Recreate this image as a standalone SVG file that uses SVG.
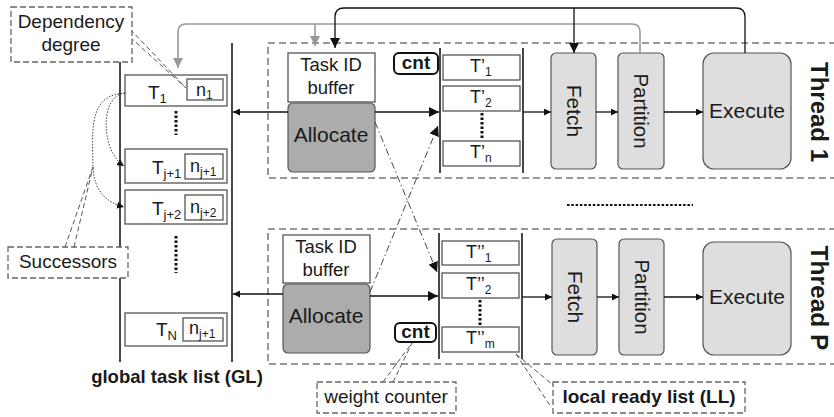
<svg xmlns="http://www.w3.org/2000/svg" width="834" height="417" viewBox="0 0 834 417">
  <style>
    text { font-family: "Liberation Sans", Arial, sans-serif; fill: #1a1a1a; }
    .b { font-weight: bold; }
    .call { fill: #fff; stroke: #666; stroke-width: 1.3; stroke-dasharray: 6 3; }
    .callLine { fill: none; stroke: #555; stroke-width: 1; stroke-dasharray: 5 3; }
    .thread { fill: none; stroke: #777; stroke-width: 1.5; stroke-dasharray: 7 4; }
    .entry { fill: #fff; stroke: #555; stroke-width: 1.3; }
    .rail { stroke: #333; stroke-width: 1.8; }
    .alloc { fill: #acacac; stroke: #555; stroke-width: 1.2; }
    .stage { fill: #dedede; stroke: #555; stroke-width: 1.2; }
    .cnt { fill: #fff; stroke: #111; stroke-width: 2; }
    .flow { fill: none; stroke: #111; stroke-width: 1.3; }
    .gray { fill: none; stroke: #999; stroke-width: 1.6; }
    .dashdot { fill: none; stroke: #444; stroke-width: 1; stroke-dasharray: 7 3 1.5 3; }
    .dots { stroke: #111; stroke-width: 3; stroke-dasharray: 2.5 2; }
    .succ { fill: none; stroke: #444; stroke-width: 1; stroke-dasharray: 1.5 1.5; }
  </style>
  <defs>
    <marker id="ah" viewBox="0 0 10 10" refX="10" refY="5" markerWidth="7" markerHeight="7" markerUnits="userSpaceOnUse" orient="auto">
      <path d="M0,0 L10,5 L0,10 z" fill="#111"/>
    </marker>
    <marker id="ahBig" viewBox="0 0 10 10" refX="10" refY="5" markerWidth="10" markerHeight="10" markerUnits="userSpaceOnUse" orient="auto">
      <path d="M0,0 L10,5 L0,10 z" fill="#111"/>
    </marker>
    <marker id="ahGray" viewBox="0 0 10 10" refX="10" refY="5" markerWidth="10" markerHeight="10" markerUnits="userSpaceOnUse" orient="auto">
      <path d="M0,0 L10,5 L0,10 z" fill="#999"/>
    </marker>
  </defs>

  <!-- thread frames -->
  <rect class="thread" x="268" y="43" width="580" height="135"/>
  <rect class="thread" x="268" y="229" width="580" height="135"/>
  <line x1="567" y1="205" x2="693" y2="205" stroke="#111" stroke-width="2" stroke-dasharray="2.5 1.8"/>

  <!-- global task list -->
  <g id="global-list">
    <line class="rail" x1="120" y1="55" x2="120" y2="362"/>
    <line class="rail" x1="232" y1="43" x2="232" y2="362"/>
    <g id="gl-t1">
      <rect class="entry" x="125" y="75" width="102" height="31"/>
      <rect class="entry" x="187" y="79" width="36" height="21"/>
      <text x="148" y="99" font-size="19">T<tspan font-size="13" dy="4">1</tspan></text>
      <text x="196" y="96" font-size="18">n<tspan font-size="12" dy="3">1</tspan></text>
    </g>
    <line class="dots" x1="176" y1="111" x2="176" y2="135"/>
    <g id="gl-tj1">
      <rect class="entry" x="125" y="149" width="102" height="34"/>
      <rect class="entry" x="185" y="154" width="38" height="25"/>
      <text x="152" y="174" font-size="19">T<tspan font-size="13" dy="4">j+1</tspan></text>
      <text x="190" y="172" font-size="18">n<tspan font-size="12" dy="4">j+1</tspan></text>
    </g>
    <g id="gl-tj2">
      <rect class="entry" x="125" y="190" width="102" height="34"/>
      <rect class="entry" x="185" y="195" width="38" height="25"/>
      <text x="152" y="215" font-size="19">T<tspan font-size="13" dy="4">j+2</tspan></text>
      <text x="190" y="213" font-size="18">n<tspan font-size="12" dy="4">j+2</tspan></text>
    </g>
    <line class="dots" x1="176" y1="236" x2="176" y2="273"/>
    <g id="gl-tn">
      <rect class="entry" x="125" y="313" width="102" height="33"/>
      <rect class="entry" x="183" y="318" width="40" height="23"/>
      <text x="156" y="336" font-size="19">T<tspan font-size="13" dy="4">N</tspan></text>
      <text x="189" y="334" font-size="18">n<tspan font-size="12" dy="4">j+1</tspan></text>
    </g>
    <text class="b" x="177" y="383" font-size="18.5" text-anchor="middle">global task list (GL)</text>
  </g>

  <!-- thread 1 -->
  <g id="thread1">
    <g id="t1-buffer">
      <rect class="entry" x="288" y="53" width="87" height="49"/>
      <text x="331" y="71" font-size="18.5" text-anchor="middle">Task ID</text>
      <text x="331" y="94" font-size="18.5" text-anchor="middle">buffer</text>
    </g>
    <g id="t1-allocate">
      <rect class="alloc" x="288" y="103" width="87" height="69" rx="5"/>
      <text x="331" y="142" font-size="21" text-anchor="middle">Allocate</text>
    </g>
    <g id="t1-cnt">
      <rect class="cnt" x="394" y="53" width="44" height="21" rx="5"/>
      <text class="b" x="416" y="69" font-size="19" text-anchor="middle">cnt</text>
    </g>
    <g id="t1-ll">
      <line class="rail" x1="440" y1="48" x2="440" y2="173"/>
      <line class="rail" x1="523" y1="48" x2="523" y2="173"/>
      <rect class="entry" x="443" y="55" width="77" height="25"/>
      <text x="470" y="72" font-size="18">T’<tspan font-size="12" dy="4">1</tspan></text>
      <rect class="entry" x="443" y="86" width="77" height="25"/>
      <text x="470" y="103" font-size="18">T’<tspan font-size="12" dy="4">2</tspan></text>
      <line class="dots" x1="482" y1="113" x2="482" y2="138"/>
      <rect class="entry" x="443" y="141" width="77" height="25"/>
      <text x="470" y="158" font-size="18">T’<tspan font-size="12" dy="4">n</tspan></text>
    </g>
    <g id="t1-fetch">
      <rect class="stage" x="551" y="53" width="45" height="116" rx="5"/>
      <text transform="translate(574,111) rotate(90)" y="7" font-size="21" text-anchor="middle">Fetch</text>
    </g>
    <g id="t1-partition">
      <rect class="stage" x="618" y="53" width="46" height="116" rx="5"/>
      <text transform="translate(641,111) rotate(90)" y="7" font-size="20.5" text-anchor="middle">Partition</text>
    </g>
    <g id="t1-execute">
      <rect class="stage" x="703" y="53" width="88" height="116" rx="11"/>
      <text x="747" y="118" font-size="21" text-anchor="middle">Execute</text>
    </g>
    <text class="b" transform="translate(819,112) rotate(90)" y="8" font-size="24" text-anchor="middle">Thread 1</text>
  </g>

  <!-- thread P -->
  <g id="threadP">
    <g id="tp-buffer">
      <rect class="entry" x="283" y="235" width="87" height="48"/>
      <text x="326" y="253" font-size="18.5" text-anchor="middle">Task ID</text>
      <text x="326" y="276" font-size="18.5" text-anchor="middle">buffer</text>
    </g>
    <g id="tp-allocate">
      <rect class="alloc" x="283" y="284" width="87" height="69" rx="5"/>
      <text x="326" y="323" font-size="21" text-anchor="middle">Allocate</text>
    </g>
    <g id="tp-cnt">
      <rect class="cnt" x="395" y="323" width="41" height="19" rx="5"/>
      <text class="b" x="415.5" y="338" font-size="19" text-anchor="middle">cnt</text>
    </g>
    <g id="tp-ll">
      <line class="rail" x1="439" y1="233" x2="439" y2="359"/>
      <line class="rail" x1="522" y1="233" x2="522" y2="359"/>
      <rect class="entry" x="442" y="241" width="77" height="24"/>
      <text x="466" y="258" font-size="18">T’’<tspan font-size="12" dy="4">1</tspan></text>
      <rect class="entry" x="442" y="273" width="77" height="25"/>
      <text x="466" y="290" font-size="18">T’’<tspan font-size="12" dy="4">2</tspan></text>
      <line class="dots" x1="480" y1="300" x2="480" y2="325"/>
      <rect class="entry" x="442" y="327" width="77" height="25"/>
      <text x="466" y="344" font-size="18">T’’<tspan font-size="12" dy="4">m</tspan></text>
    </g>
    <g id="tp-fetch">
      <rect class="stage" x="552" y="239" width="45" height="116" rx="5"/>
      <text transform="translate(574.5,297) rotate(90)" y="7" font-size="21" text-anchor="middle">Fetch</text>
    </g>
    <g id="tp-partition">
      <rect class="stage" x="619" y="239" width="45" height="116" rx="5"/>
      <text transform="translate(641.5,297) rotate(90)" y="7" font-size="20.5" text-anchor="middle">Partition</text>
    </g>
    <g id="tp-execute">
      <rect class="stage" x="703" y="242" width="88" height="113" rx="11"/>
      <text x="747" y="304" font-size="21" text-anchor="middle">Execute</text>
    </g>
    <text class="b" transform="translate(819,298) rotate(90)" y="8" font-size="24.5" text-anchor="middle">Thread P</text>
  </g>

  <!-- connectors -->
  <g id="connectors">
    <!-- allocate to global list -->
    <line class="flow" x1="288" y1="112" x2="233" y2="112" marker-end="url(#ah)"/>
    <line class="flow" x1="283" y1="294" x2="233" y2="294" marker-end="url(#ah)"/>
    <!-- allocate to local lists -->
    <line class="flow" x1="375" y1="112" x2="439" y2="112" marker-end="url(#ahBig)"/>
    <line class="flow" x1="370" y1="296" x2="438" y2="296" marker-end="url(#ahBig)"/>
    <!-- pipeline, thread 1 -->
    <line class="flow" x1="523" y1="112" x2="551" y2="112" marker-end="url(#ah)"/>
    <line class="flow" x1="596" y1="112" x2="618" y2="112" marker-end="url(#ah)"/>
    <line class="flow" x1="664" y1="112" x2="703" y2="112" marker-end="url(#ah)"/>
    <!-- pipeline, thread P -->
    <line class="flow" x1="522" y1="297" x2="552" y2="297" marker-end="url(#ah)"/>
    <line class="flow" x1="597" y1="297" x2="619" y2="297" marker-end="url(#ah)"/>
    <line class="flow" x1="664" y1="297" x2="703" y2="297" marker-end="url(#ah)"/>
    <!-- cross-thread allocation -->
    <line class="dashdot" x1="375" y1="122" x2="437" y2="272" marker-end="url(#ahBig)"/>
    <line class="dashdot" x1="370" y1="292" x2="438" y2="126" marker-end="url(#ahBig)"/>
    <!-- feedback from partition (gray) -->
    <path class="gray" d="M640,53 V32 Q640,24 632,24 H186 Q178,24 178,32 V68" marker-end="url(#ahGray)"/>
    <line class="gray" x1="315" y1="24" x2="315" y2="46" marker-end="url(#ahGray)"/>
    <!-- feedback from execute (black) -->
    <path class="flow" d="M745,53 V17 Q745,8 736,8 H344 Q335,8 335,17 V48" marker-end="url(#ahBig)"/>
    <line class="flow" x1="574" y1="8" x2="574" y2="53" marker-end="url(#ahBig)"/>
    <!-- successor links -->
    <path class="succ" d="M125,93 C100,95 100,150 124,166" marker-end="url(#ah)"/>
    <path class="succ" d="M125,93 C90,95 92,125 93,167 C94,190 105,202 124,207" marker-end="url(#ah)"/>
  </g>

  <!-- annotations -->
  <g id="note-dependency">
    <path class="callLine" d="M130,29 L186,88 M130,37 L186,88"/>
    <rect class="call" x="11" y="7" width="121" height="55"/>
    <text x="71" y="28" font-size="19" text-anchor="middle">Dependency</text>
    <text x="71" y="51" font-size="19" text-anchor="middle">degree</text>
  </g>
  <g id="note-successors">
    <path class="callLine" d="M65,247 L93,167 M74,247 L93,167"/>
    <rect class="call" x="8" y="247" width="120" height="31"/>
    <text x="68" y="268" font-size="19" text-anchor="middle">Successors</text>
  </g>
  <g id="note-weight">
    <path class="callLine" d="M383,382 L412,343 M393,382 L412,343"/>
    <rect class="call" x="317" y="382" width="139" height="31"/>
    <text x="386" y="403" font-size="19" text-anchor="middle">weight counter</text>
  </g>
  <g id="note-local">
    <path class="callLine" d="M516,354 L553,385 M516,354 L551,407"/>
    <rect class="call" x="553" y="382" width="192" height="31"/>
    <text class="b" x="649" y="403" font-size="19" text-anchor="middle">local ready list (LL)</text>
  </g>
</svg>
